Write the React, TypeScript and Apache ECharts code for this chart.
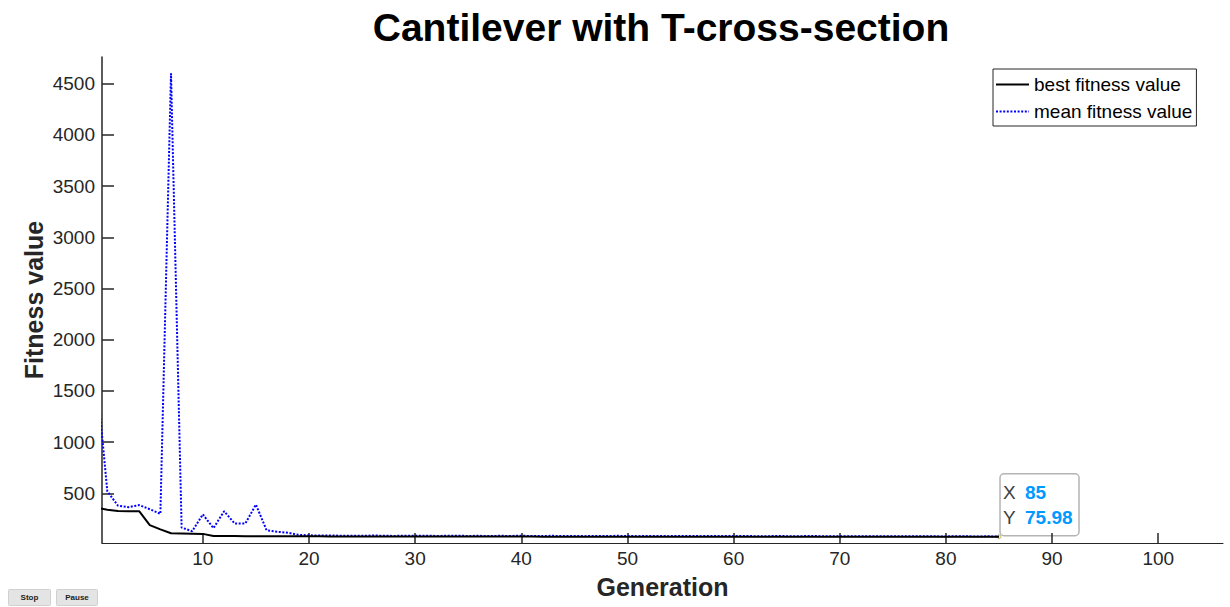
import React, { useEffect, useRef } from "react";
import * as echarts from "echarts";

// Generation index = position in the arrays (0..85)
const bestFitness = [
  360, 340, 327, 326, 326, 190, 148, 110, 108, 106,
  104, 84, 83, 82.5, 82, 81.6, 81.2, 80.8, 80.5, 80.2,
  80, 79.8, 79.6, 79.4, 79.2, 79, 78.9, 78.8, 78.6, 78.5,
  78.4, 78.3, 78.2, 78.1, 78, 77.9, 77.8, 77.7, 77.6, 77.5,
  77.4, 77.3, 77.2, 77.1, 77, 76.95, 76.9, 76.85, 76.8, 76.75,
  76.7, 76.65, 76.6, 76.55, 76.5, 76.46, 76.43, 76.4, 76.37, 76.34,
  76.31, 76.28, 76.25, 76.22, 76.2, 76.18, 76.16, 76.14, 76.12, 76.1,
  76.09, 76.08, 76.07, 76.06, 76.05, 76.04, 76.03, 76.02, 76.01, 76.0,
  76.0, 75.99, 75.99, 75.99, 75.98, 75.98,
];

const meanFitness = [
  1620, 520, 380, 365, 385, 345, 300, 4600, 165, 130,
  295, 160, 325, 205, 205, 390, 140, 125, 115, 95,
  90, 88, 89, 86, 87, 85, 88, 86, 84, 87,
  85, 86, 84, 85, 86, 84, 85, 83, 85, 84,
  86, 83, 84, 85, 83, 84, 82, 84, 83, 85,
  83, 82, 84, 83, 82, 84, 83, 82, 83, 84,
  82, 83, 82, 81, 83, 82, 81, 83, 82, 81,
  82, 80, 82, 81, 80, 82, 81, 80, 81, 80,
  79, 81, 80, 79, 80, 78,
];

const xTicks = [10, 20, 30, 40, 50, 60, 70, 80, 90, 100];
const yTicks = [500, 1000, 1500, 2000, 2500, 3000, 3500, 4000, 4500];

const tipGeneration = 85;
const tipValue = 75.98;

export default function App() {
  const ref = useRef<HTMLDivElement>(null);

  useEffect(() => {
    document.body.style.margin = "0";
    const chart = echarts.init(ref.current!, null, { renderer: "svg" });
    const font = "'Liberation Sans', Arial, Helvetica, sans-serif";
    const axisColor = "#262626";

    const toPairs = (arr: number[]) => arr.map((v, i) => [i, v]);

    chart.setOption({
      animation: false,
      textStyle: { fontFamily: font },
      title: {
        text: "Cantilever with T-cross-section",
        left: 656,
        textAlign: "center",
        top: 3,
        textStyle: { fontSize: 39, fontWeight: "bold", color: "#000", fontFamily: font },
      },
      grid: { left: 102, right: 7, top: 57, bottom: 64, containLabel: false },
      legend: {
        orient: "vertical",
        left: 993,
        top: 69,
        backgroundColor: "#fff",
        borderColor: "#262626",
        borderWidth: 1,
        borderRadius: 0,
        padding: [6, 4, 5, 2],
        itemGap: 8,
        itemWidth: 33,
        itemHeight: 14,
        itemTextGap: 0,
        itemStyle: { opacity: 0 },
        textStyle: { fontSize: 19, color: "#000", fontFamily: font },
        data: [{ name: "best fitness value" }, { name: "mean fitness value" }],
      },
      xAxis: {
        type: "value",
        min: 0.5,
        max: 106.1,
        name: "Generation",
        nameLocation: "middle",
        nameGap: 31,
        nameTextStyle: { fontSize: 25, fontWeight: "bold", color: axisColor, fontFamily: font },
        axisLine: { show: true, lineStyle: { color: axisColor, width: 1 } },
        axisTick: { show: true, inside: true, length: 10, customValues: xTicks, lineStyle: { color: axisColor, width: 1.5 } },
        axisLabel: { customValues: xTicks, fontSize: 19, color: axisColor, margin: 6, fontFamily: font, formatter: (v: number) => String(v) },
        splitLine: { show: false },
      },
      yAxis: {
        type: "value",
        min: 15,
        max: 4760,
        name: "Fitness value",
        nameLocation: "middle",
        nameRotate: 90,
        nameGap: 56,
        nameMoveOverlap: false,
        nameTextStyle: { fontSize: 25, fontWeight: "bold", color: axisColor, fontFamily: font },
        axisLine: { show: true, lineStyle: { color: axisColor, width: 1.5 } },
        axisTick: { show: true, inside: true, length: 12, customValues: yTicks, lineStyle: { color: axisColor, width: 1.5 } },
        axisLabel: { customValues: yTicks, fontSize: 19, color: axisColor, margin: 7, fontFamily: font, formatter: (v: number) => String(v) },
        splitLine: { show: false },
      },
      series: [
        {
          name: "best fitness value",
          type: "line",
          data: toPairs(bestFitness),
          symbol: "none",
          lineStyle: { color: "#000", width: 2, type: "solid" },
          itemStyle: { color: "#000" },
          clip: true,
          z: 3,
        },
        {
          name: "mean fitness value",
          type: "line",
          data: toPairs(meanFitness),
          symbol: "none",
          lineStyle: { color: "#0000ff", width: 2, type: [2, 1.6] },
          itemStyle: { color: "#0000ff" },
          clip: true,
          z: 2,
        },
      ],
    });

    const p = chart.convertToPixel({ gridIndex: 0 }, [tipGeneration, tipValue]) as number[];

    chart.setOption({
      graphic: [
        {
          type: "group",
          x: p[0],
          y: p[1],
          z: 100,
          children: [
            {
              type: "rect",
              shape: { x: 1, y: -63, width: 79, height: 62, r: 4 },
              style: { fill: "#ffffff", stroke: "#b4b4b4", lineWidth: 1.5 },
            },
            {
              type: "text",
              x: 4,
              y: -44.3,
              style: { text: "X", fontSize: 19, fill: "#404040", fontFamily: font, verticalAlign: "middle" },
            },
            {
              type: "text",
              x: 26,
              y: -44.3,
              style: { text: String(tipGeneration), fontSize: 19, fontWeight: "bold", fill: "#0099ff", fontFamily: font, verticalAlign: "middle" },
            },
            {
              type: "text",
              x: 4,
              y: -19,
              style: { text: "Y", fontSize: 19, fill: "#404040", fontFamily: font, verticalAlign: "middle" },
            },
            {
              type: "text",
              x: 26,
              y: -19,
              style: { text: tipValue.toFixed(2), fontSize: 19, fontWeight: "bold", fill: "#0099ff", fontFamily: font, verticalAlign: "middle" },
            },
            {
              type: "circle",
              shape: { cx: 0, cy: 0, r: 2 },
              style: { fill: "#ffff66", stroke: "#777", lineWidth: 0.5 },
            },
          ],
        },
        {
          type: "group",
          left: 8,
          top: 589,
          children: [
            {
              type: "rect",
              shape: { x: 0, y: 0, width: 42, height: 16, r: 1 },
              style: { fill: "#e4e4e4", stroke: "#d0d0d0", lineWidth: 1 },
            },
            {
              type: "text",
              x: 21,
              y: 8,
              style: { text: "Stop", fontSize: 8, fontWeight: "bold", fill: "#222", fontFamily: font, align: "center", verticalAlign: "middle" },
            },
            {
              type: "rect",
              shape: { x: 48, y: 0, width: 41, height: 16, r: 1 },
              style: { fill: "#e4e4e4", stroke: "#d0d0d0", lineWidth: 1 },
            },
            {
              type: "text",
              x: 68.5,
              y: 8,
              style: { text: "Pause", fontSize: 8, fontWeight: "bold", fill: "#222", fontFamily: font, align: "center", verticalAlign: "middle" },
            },
          ],
        },
      ],
    });

    return () => chart.dispose();
  }, []);

  return <div ref={ref} style={{ width: 1230, height: 607 }} />;
}
